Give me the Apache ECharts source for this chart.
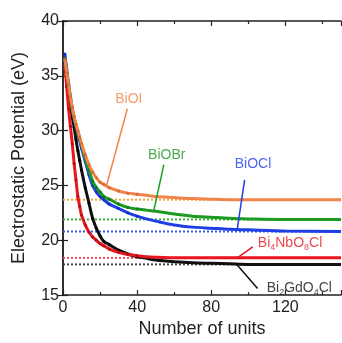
<!DOCTYPE html>
<html>
<head>
<meta charset="utf-8">
<script src="https://cdn.jsdelivr.net/npm/echarts@6/dist/echarts.min.js"></script>
<style>
    html, body { margin: 0; padding: 0; background: #fff; }
    #chart { width: 342px; height: 343px; }
</style>
</head>
<body>
<div id="chart"></div>
<script>
// number of units (x)
const units = [1, 2, 3, 4, 5, 6, 7, 8, 9, 10, 12, 14, 16, 18, 20, 22, 25, 30, 35, 40, 45, 50, 60, 70, 80, 90, 100, 120, 150];

// electrostatic potential (eV)
const biOI = [36.5, 35.3, 34.2, 33.1, 32.1, 31.3, 30.6, 30.0, 29.4, 28.8, 27.8, 26.9, 26.2, 25.7, 25.3, 25.1, 24.8, 24.5, 24.3, 24.2, 24.1, 24.0, 23.9, 23.8, 23.75, 23.7, 23.7, 23.7, 23.7];
const biOBr = [36.6, 35.3, 34.1, 33.0, 32.0, 31.2, 30.5, 29.9, 29.3, 28.7, 27.5, 26.4, 25.4, 24.8, 24.4, 24.0, 23.75, 23.3, 23.0, 22.85, 22.75, 22.65, 22.4, 22.2, 22.1, 22.0, 21.95, 21.9, 21.9];
const biOCl = [37.0, 35.6, 34.3, 33.1, 32.0, 31.1, 30.4, 29.7, 29.1, 28.4, 27.2, 26.0, 25.0, 24.4, 24.0, 23.7, 23.3, 22.9, 22.5, 22.2, 21.95, 21.75, 21.4, 21.2, 21.1, 21.0, 20.95, 20.85, 20.8];
const bi4NbO8Cl = [36.0, 34.0, 32.0, 30.4, 28.8, 27.0, 25.5, 24.0, 23.1, 22.3, 21.4, 20.75, 20.3, 20.0, 19.7, 19.5, 19.2, 18.9, 18.7, 18.6, 18.5, 18.45, 18.4, 18.4, 18.4, 18.4, 18.4, 18.4, 18.4];
const bi2GdO4Cl = [36.5, 35.2, 33.8, 32.4, 31.2, 30.3, 29.2, 28.2, 27.3, 26.4, 24.8, 23.4, 22.0, 21.1, 20.4, 19.9, 19.6, 19.1, 18.75, 18.5, 18.35, 18.2, 18.05, 17.95, 17.9, 17.85, 17.8, 17.8, 17.8];

// dotted limit lines
const limits = [23.7, 21.9, 20.8, 18.4, 17.8];

// label positions [x, y] and leader lines [[x1,y1],[x2,y2]]
const labelPos = [[35.5, 32.9], [56, 27.8], [102.5, 26.9], [122.5, 19.7], [127.5, 15.6]];
const leaders = [
    [[23.5, 25.0], [34.7, 32.0]],
    [[49, 22.7], [54.4, 26.9]],
    [[94, 21.0], [98, 25.5]],
    [[94.4, 18.45], [102.4, 19.4]],
    [[93.4, 17.85], [105, 15.6]]
];

const names = ['BiOI', 'BiOBr', 'BiOCl', 'Bi4NbO8Cl', 'Bi2GdO4Cl'];
const labelTexts = ['BiOI', 'BiOBr', 'BiOCl', 'Bi{sub|4}NbO{sub|8}Cl', 'Bi{sub|2}GdO{sub|4}Cl'];
const curves = [biOI, biOBr, biOCl, bi4NbO8Cl, bi2GdO4Cl];
const lineColors = ['#f0844a', '#1c9a22', '#1f3fe6', '#e8161e', '#111111'];
const dotColors = ['#d86a30', '#127a16', '#1430b8', '#b80c12', '#000000'];
const limitColors = ['#f0a636', '#3aaa3a', '#3a5af0', '#ee4a50', '#444444'];
const labelColors = ['#f0844a', '#1c9a22', '#1f3fe6', '#e8161e', '#111111'];

let myChart = echarts.init(document.getElementById('chart'));

let series = [];

// 水平虚线
limits.forEach((v, i) => {
    series.push({
        type: 'line',
        data: [[0, v], [150, v]],
        showSymbol: false,
        silent: true,
        z: 1,
        lineStyle: { color: limitColors[i], width: 2, type: [2, 2] }
    });
});

curves.forEach((vals, i) => {
    series.push({
        name: names[i],
        type: 'line',
        smooth: 0.3,
        z: 3 + (4 - i),
        symbol: 'circle',
        symbolSize: 3,
        data: units.map((u, k) => ({
            value: [u, vals[k]],
            symbol: u <= 40 ? 'circle' : 'none'
        })),
        itemStyle: { color: dotColors[i] },
        lineStyle: { color: lineColors[i], width: 3 }
    });
});

leaders.forEach((seg, i) => {
    series.push({
        type: 'line',
        data: seg,
        showSymbol: false,
        z: 9,
        lineStyle: { color: lineColors[i], width: 1.5 }
    });
});

series.push({
    type: 'scatter',
    symbolSize: 0,
    z: 10,
    data: labelPos.map((p, i) => ({
        value: p,
        label: {
            show: true,
            position: 'inside',
            formatter: labelTexts[i],
            color: labelColors[i],
            fontSize: 14,
            fontFamily: 'Liberation Sans',
            rich: {
                sub: { fontSize: 9, color: labelColors[i], fontFamily: 'Liberation Sans', padding: [8, 0, 0, 0] }
            }
        }
    }))
});

const tickCommon = { inside: true, length: 5, lineStyle: { color: '#222', width: 1.2 } };
const minorCommon = { show: true, splitNumber: 2, length: 3, lineStyle: { color: '#222', width: 1.2 } };

let option = {
    animation: false,
    grid: { left: 63, right: 1, top: 21, bottom: 44 },
    textStyle: { fontFamily: 'Liberation Sans' },
    xAxis: [{
        type: 'value',
        min: 0, max: 150, interval: 40,
        name: 'Number of units',
        nameLocation: 'middle',
        nameGap: 24,
        nameTextStyle: { fontSize: 18, color: '#222' },
        axisLine: { lineStyle: { color: '#222', width: 1.5 } },
        axisTick: tickCommon,
        minorTick: minorCommon,
        axisLabel: { fontSize: 16, color: '#222', margin: 4, showMaxLabel: false },
        splitLine: { show: false }
    }, {
        type: 'value',
        position: 'top',
        min: 0, max: 150, interval: 40,
        axisLine: { lineStyle: { color: '#222', width: 1.5 } },
        axisTick: tickCommon,
        minorTick: minorCommon,
        axisLabel: { show: false },
        splitLine: { show: false }
    }],
    yAxis: [{
        type: 'value',
        min: 15, max: 40, interval: 5,
        name: 'Electrostatic Potential (eV)',
        nameLocation: 'middle',
        nameGap: 35,
        nameTextStyle: { fontSize: 18, color: '#222' },
        axisLine: { lineStyle: { color: '#222', width: 1.5 } },
        axisTick: tickCommon,
        axisLabel: { fontSize: 16, color: '#222', margin: 4 },
        splitLine: { show: false }
    }, {
        type: 'value',
        position: 'right',
        min: 15, max: 40, interval: 5,
        axisLine: { lineStyle: { color: '#222', width: 1.5 } },
        axisTick: tickCommon,
        axisLabel: { show: false },
        splitLine: { show: false }
    }],
    series: series
};

myChart.setOption(option);
</script>
</body>
</html>
